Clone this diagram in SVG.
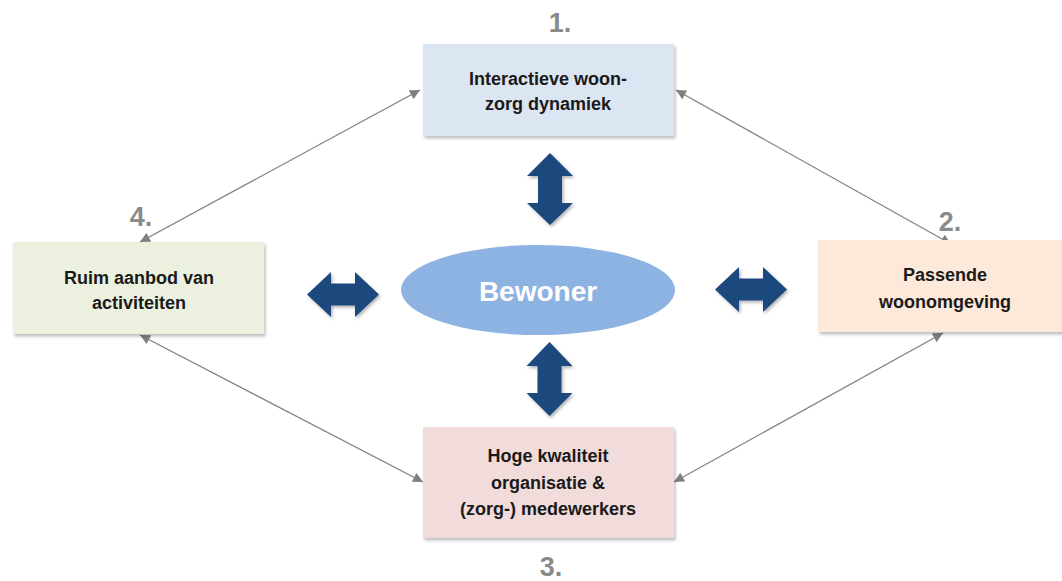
<svg xmlns="http://www.w3.org/2000/svg" width="1062" height="581" viewBox="0 0 1062 581">
<style>
.box{stroke:none;filter:url(#sh)}
.lbl{font-family:"Liberation Sans",Arial,sans-serif;font-size:18px;font-weight:bold;fill:#1a1a1a;text-anchor:middle}
.num{font-family:"Liberation Sans",Arial,sans-serif;font-size:27px;font-weight:bold;fill:#8a8a8a;text-anchor:middle}
.blk{fill:#1f497d;filter:url(#sh2)}
.con{stroke:#7f7f7f;stroke-width:1.2;fill:none;marker-start:url(#ah);marker-end:url(#ah)}
</style>
<defs>
<filter id="sh" x="-10%" y="-10%" width="125%" height="130%">
<feDropShadow dx="1.5" dy="2.5" stdDeviation="1.5" flood-color="#000" flood-opacity="0.25"/>
</filter>
<filter id="sh2" x="-20%" y="-20%" width="150%" height="150%">
<feDropShadow dx="1.5" dy="2" stdDeviation="1.5" flood-color="#000" flood-opacity="0.3"/>
</filter>
<marker id="ah" viewBox="0 0 10 10" refX="10" refY="5" markerWidth="11" markerHeight="10" markerUnits="userSpaceOnUse" orient="auto-start-reverse">
<path d="M0,0 L10,5 L0,10 Z" fill="#7f7f7f"/>
</marker>
</defs>
<rect width="1062" height="581" fill="#fff"/>
<g id="connectors">
<line class="con" x1="140" y1="242" x2="420" y2="90"/>
<line class="con" x1="676" y1="90" x2="951" y2="244"/>
<line class="con" x1="140" y1="335" x2="423" y2="482"/>
<line class="con" x1="674" y1="482" x2="943" y2="333"/>
<path class="blk" d="M550,153 L573,176 L562,176 L562,203 L573,203 L550,225 L527,203 L538,203 L538,176 L527,176 Z"/>
<path class="blk" d="M549.5,342 L572.5,366 L561.5,366 L561.5,393 L572.5,393 L549.5,416 L526.5,393 L537.5,393 L537.5,366 L526.5,366 Z"/>
<path class="blk" d="M307,294.5 L331,272 L331,283.5 L355,283.5 L355,272 L379,294.5 L355,317 L355,305.5 L331,305.5 L331,317 Z"/>
<path class="blk" d="M715,289.5 L739,267 L739,278.5 L763,278.5 L763,267 L787,289.5 L763,312 L763,300.5 L739,300.5 L739,312 Z"/>
</g>
<g id="node-center">
<ellipse cx="538" cy="290" rx="137" ry="45" fill="#8db3e2"/>
<text x="538" y="301" font-family="Liberation Sans,Arial,sans-serif" font-size="28" font-weight="bold" fill="#fff" text-anchor="middle">Bewoner</text>
</g>
<g id="node-1">
<rect class="box" x="423" y="44" width="251" height="92" fill="#dce6f2"/>
<text class="lbl" x="548" y="85">Interactieve woon-</text>
<text class="lbl" x="548" y="110">zorg dynamiek</text>
<text class="num" x="560" y="32">1.</text>
</g>
<g id="node-2">
<rect class="box" x="818" y="240" width="254" height="92" fill="#fde9d9"/>
<text class="lbl" x="945" y="281">Passende</text>
<text class="lbl" x="945" y="308">woonomgeving</text>
<text class="num" x="950" y="231">2.</text>
</g>
<g id="node-3">
<rect class="box" x="423" y="427" width="251" height="111" fill="#f2dcdb"/>
<text class="lbl" x="548" y="462">Hoge kwaliteit</text>
<text class="lbl" x="548" y="489">organisatie &amp;</text>
<text class="lbl" x="548" y="515">(zorg-) medewerkers</text>
<text class="num" x="551" y="576">3.</text>
</g>
<g id="node-4">
<rect class="box" x="13" y="242" width="251" height="92" fill="#ebf1de"/>
<text class="lbl" x="139" y="284">Ruim aanbod van</text>
<text class="lbl" x="139" y="309">activiteiten</text>
<text class="num" x="141" y="226">4.</text>
</g>
</svg>
